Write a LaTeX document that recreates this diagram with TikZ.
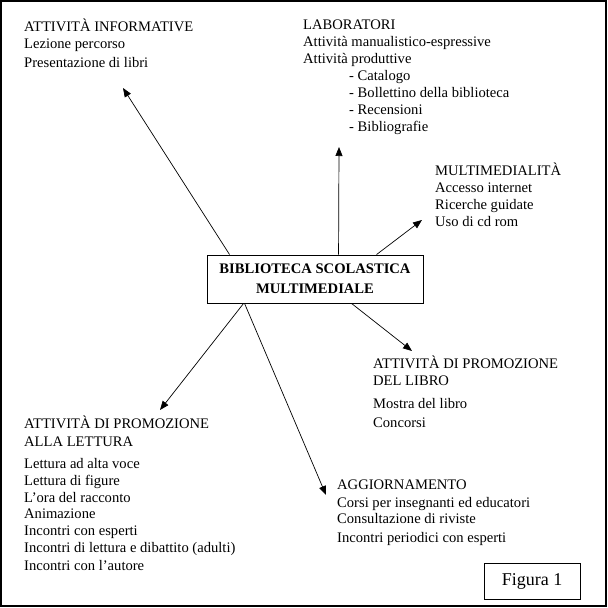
\documentclass[tikz,border=0pt]{standalone}
\usepackage{fontspec}
\setmainfont{Liberation Serif}
\usetikzlibrary{positioning, arrows.meta, calc}

\begin{document}
\begin{tikzpicture}[
  x=1pt, y=-1pt,
  txt/.style={anchor=north west, inner sep=0pt, align=left,
              font=\fontsize{14.6}{17}\selectfont},
  mainbox/.style={draw, line width=0.9pt, minimum width=216pt, minimum height=48pt,
                  inner sep=0pt, align=center,
                  font=\fontsize{14.6}{20}\selectfont\bfseries},
  figbox/.style={draw, line width=0.9pt, minimum width=96pt, minimum height=36pt,
                 inner sep=0pt, font=\fontsize{18}{20}\selectfont},
  arr/.style={-{Triangle[length=9pt, width=7pt]}, line width=0.7pt}
]
  \useasboundingbox (0,0) rectangle (608,608);
  \draw[line width=1.6pt] (1,1) rectangle (606,606);

  % centre
  \node[mainbox] (bib) at (315,279) {BIBLIOTECA SCOLASTICA\\MULTIMEDIALE};

  % top blocks
  \node[txt] (info) at (24,19.1) {\strut ATTIVITÀ INFORMATIVE\\Lezione percorso\\[2pt]Presentazione di libri};
  \node[txt] (lab) at (303,17.1) {\strut LABORATORI\\Attività manualistico-espressive\\Attività produttive\\
    \hspace{46pt}- Catalogo\\\hspace{46pt}- Bollettino della biblioteca\\
    \hspace{46pt}- Recensioni\\\hspace{46pt}- Bibliografie};
  \node[txt] (multi) at (435,163.1) {\strut MULTIMEDIALITÀ\\Accesso internet\\Ricerche guidate\\Uso di cd rom};

  % bottom blocks
  \node[txt] (promolib) at (373,356.1) {\strut ATTIVITÀ DI PROMOZIONE\\DEL LIBRO\\[6pt]Mostra del libro\\[2pt]Concorsi};
  \node[txt] (aggiorn) at (337,477.1) {\strut AGGIORNAMENTO\\[1pt]Corsi per insegnanti ed educatori\\[-1pt]Consultazione di riviste\\[2pt]Incontri periodici con esperti};
  \node[txt] (promolet) at (24,416.1) {\strut ATTIVITÀ DI PROMOZIONE\\[1pt]ALLA LETTURA\\[5pt]Lettura ad alta voce\\Lettura di figure\\L’ora del racconto\\[-1pt]Animazione\\Incontri con esperti\\Incontri di lettura e dibattito (adulti)\\[1pt]Incontri con l’autore};

  \node[figbox] (fig) at (532,581) {Figura 1};

  % arrow ends
  \coordinate (toinfo) at (123,88);
  \coordinate (tolab) at (339,147);
  \coordinate (tomulti) at (422,220);
  \coordinate (topromolib) at (412,351);
  \coordinate (toaggiorn) at (326,495);
  \coordinate (topromolet) at (160,410);

  \draw[arr] ($(bib.north west)+(23,0)$) -- (toinfo);
  \draw[arr] ($(bib.north west)+(132,0)$) -- (tolab);
  \draw[arr] ($(bib.north west)+(170,0)$) -- (tomulti);
  \draw[arr] ($(bib.south west)+(145,0)$) -- (topromolib);
  \draw[arr] ($(bib.south west)+(38,0)$) -- (toaggiorn);
  \draw[arr] ($(bib.south west)+(37,0)$) -- (topromolet);
\end{tikzpicture}
\end{document}
